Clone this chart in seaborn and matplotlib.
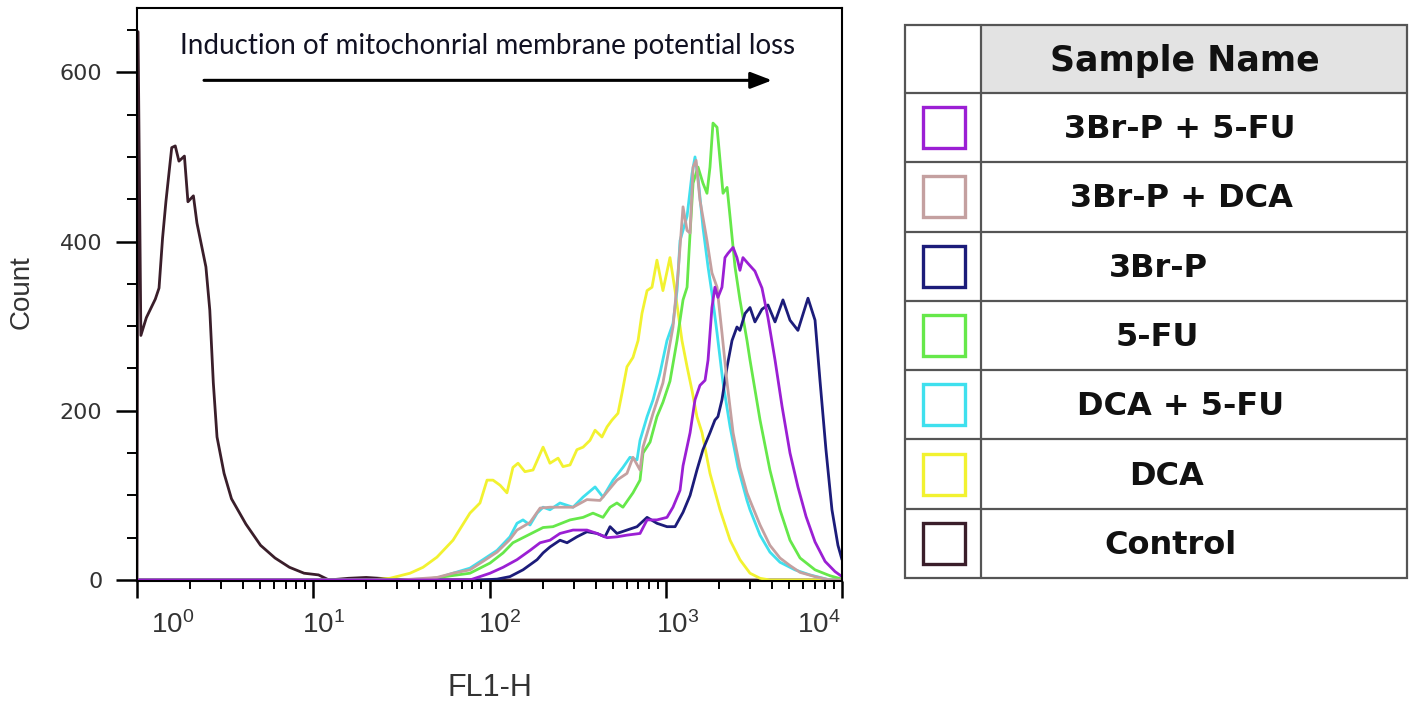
import numpy as np
import pandas as pd
import matplotlib
matplotlib.use("Agg")
import matplotlib.pyplot as plt
import matplotlib.ticker as mticker
import matplotlib.transforms as mtrans
from matplotlib.patches import Rectangle
import seaborn as sns

# ---------------- data (x given as log10(FL1-H), y = Count) ----------------
samples = ["3Br-P + 5-FU", "3Br-P + DCA", "3Br-P", "5-FU", "DCA + 5-FU", "DCA", "Control"]
colors = ["#9b1fd4", "#c4a0a0", "#1c1c7a", "#66e84a", "#3fe0ee", "#f2f230", "#3a1e2a"]

control_log = [0.0, 0.006, 0.022, 0.053, 0.104, 0.125, 0.145, 0.164, 0.197, 0.217,
               0.238, 0.269, 0.289, 0.32, 0.34, 0.391, 0.413, 0.433, 0.454, 0.494,
               0.536, 0.618, 0.701, 0.783, 0.865, 0.948, 1.03, 1.089, 1.2, 1.3,
               1.45, 1.6, 4.0]
control_count = [0, 648, 289, 310, 332, 345, 404, 447, 511, 513,
                 495, 501, 447, 454, 422, 370, 319, 233, 169, 126,
                 96, 66, 41, 26, 15, 8, 6, 0, 2, 3,
                 1, 0, 0]

dca_log = [0.0, 1.322, 1.435, 1.549, 1.623, 1.702, 1.793, 1.889, 1.946, 1.986,
           2.020, 2.060, 2.099, 2.133, 2.162, 2.201, 2.247, 2.304, 2.343, 2.389,
           2.417, 2.457, 2.496, 2.531, 2.570, 2.599, 2.638, 2.667, 2.695, 2.729,
           2.752, 2.780, 2.814, 2.843, 2.865, 2.894, 2.922, 2.950, 2.984, 3.024,
           3.053, 3.092, 3.121, 3.149, 3.177, 3.206, 3.251, 3.308, 3.365, 3.421,
           3.478, 3.535, 3.591, 4.0]
dca_count = [0, 0, 2, 8, 15, 27, 47, 79, 91, 118,
             118, 112, 103, 133, 138, 128, 130, 157, 138, 144,
             134, 136, 154, 157, 165, 177, 169, 181, 189, 197,
             221, 252, 263, 283, 315, 342, 346, 378, 342, 381,
             342, 283, 252, 224, 193, 174, 126, 83, 47, 24,
             8, 2, 0, 0]

dca_5fu_log = [0.0, 1.492, 1.702, 1.793, 1.889, 1.963, 2.043, 2.116, 2.156, 2.190,
               2.230, 2.270, 2.304, 2.343, 2.400, 2.474, 2.531, 2.599, 2.644, 2.701,
               2.757, 2.797, 2.837, 2.854, 2.894, 2.928, 2.967, 3.007, 3.041, 3.064,
               3.081, 3.121, 3.149, 3.166, 3.183, 3.211, 3.240, 3.262, 3.291, 3.325,
               3.365, 3.410, 3.461, 3.478, 3.535, 3.591, 3.648, 3.733, 3.818, 3.932,
               4.0]
dca_5fu_count = [0, 0, 2, 8, 14, 24, 35, 51, 67, 71,
                 65, 79, 86, 83, 91, 86, 98, 110, 98, 118,
                 133, 145, 142, 165, 193, 213, 244, 283, 303, 342,
                 401, 430, 480, 500, 476, 417, 370, 339, 292, 233,
                 181, 133, 94, 83, 53, 33, 21, 12, 6, 0,
                 0]

fu_log = [0.0, 1.606, 1.889, 2.003, 2.077, 2.133, 2.190, 2.247, 2.304, 2.360,
          2.457, 2.531, 2.587, 2.644, 2.684, 2.723, 2.757, 2.814, 2.854, 2.871,
          2.911, 2.950, 2.984, 3.024, 3.064, 3.098, 3.121, 3.138, 3.155, 3.183,
          3.211, 3.234, 3.251, 3.268, 3.291, 3.308, 3.325, 3.348, 3.365, 3.393,
          3.421, 3.461, 3.478, 3.535, 3.591, 3.648, 3.705, 3.762, 3.847, 3.932,
          4.0]
fu_count = [0, 0, 8, 20, 32, 44, 50, 56, 62, 63,
            71, 74, 79, 74, 86, 91, 86, 103, 118, 150,
            163, 193, 210, 235, 283, 331, 346, 410, 469, 488,
            469, 457, 488, 540, 535, 496, 457, 464, 429, 370,
            331, 283, 260, 189, 130, 83, 47, 26, 12, 5,
            1]

brp_log = [0.0, 1.946, 2.043, 2.116, 2.190, 2.270, 2.304, 2.343, 2.400, 2.440,
           2.496, 2.553, 2.610, 2.655, 2.684, 2.723, 2.780, 2.837, 2.894, 2.950,
           3.007, 3.053, 3.098, 3.138, 3.177, 3.211, 3.251, 3.279, 3.296, 3.319,
           3.348, 3.376, 3.404, 3.421, 3.450, 3.478, 3.506, 3.546, 3.580, 3.620,
           3.665, 3.705, 3.750, 3.807, 3.847, 3.875, 3.909, 3.943, 3.977, 4.0]
brp_count = [0, 0, 1, 4, 12, 24, 32, 39, 47, 44,
             51, 57, 55, 51, 63, 55, 59, 63, 74, 67,
             63, 63, 80, 100, 130, 154, 174, 189, 193, 213,
             252, 283, 299, 295, 315, 322, 305, 320, 325, 305,
             331, 307, 295, 333, 307, 236, 154, 83, 41, 24]

brp_dca_log = [0.0, 1.492, 1.702, 1.793, 1.889, 1.963, 2.043, 2.116, 2.156, 2.230,
               2.287, 2.343, 2.474, 2.553, 2.627, 2.723, 2.780, 2.814, 2.854, 2.871,
               2.928, 2.984, 3.041, 3.070, 3.098, 3.121, 3.138, 3.155, 3.172, 3.194,
               3.234, 3.262, 3.291, 3.319, 3.348, 3.382, 3.421, 3.461, 3.478, 3.535,
               3.591, 3.648, 3.705, 3.762, 3.847, 3.932, 4.0]
brp_dca_count = [0, 0, 3, 8, 12, 22, 33, 48, 59, 68,
                 85, 86, 86, 95, 94, 118, 126, 145, 130, 157,
                 197, 233, 299, 363, 441, 413, 410, 488, 496, 449,
                 401, 363, 346, 292, 233, 174, 133, 103, 94, 65,
                 41, 26, 17, 9, 4, 0, 0]

brp_5fu_log = [0.0, 1.889, 2.003, 2.077, 2.156, 2.230, 2.287, 2.343, 2.400, 2.474,
               2.553, 2.610, 2.667, 2.723, 2.780, 2.854, 2.894, 2.950, 3.007, 3.041,
               3.081, 3.098, 3.138, 3.166, 3.194, 3.223, 3.240, 3.262, 3.279, 3.296,
               3.319, 3.336, 3.353, 3.382, 3.404, 3.421, 3.438, 3.467, 3.506, 3.546,
               3.580, 3.620, 3.660, 3.705, 3.750, 3.796, 3.847, 3.904, 3.960, 4.0]
brp_5fu_count = [0, 0, 8, 15, 24, 35, 44, 47, 55, 59,
                 59, 55, 50, 51, 53, 55, 71, 71, 74, 86,
                 106, 135, 174, 213, 230, 236, 260, 322, 346, 334,
                 346, 381, 386, 393, 381, 366, 381, 374, 365, 345,
                 310, 260, 205, 150, 110, 75, 45, 22, 10, 4]

y_ticks = [0, 200, 400, 600]
x_ticks = [1, 10, 100, 1000, 10000]
x_tick_labels = [r"$10^{0}$", r"$10^{1}$", r"$10^{2}$", r"$10^{3}$", r"$10^{4}$"]

series = {
    "3Br-P + 5-FU": (brp_5fu_log, brp_5fu_count),
    "3Br-P + DCA": (brp_dca_log, brp_dca_count),
    "3Br-P": (brp_log, brp_count),
    "5-FU": (fu_log, fu_count),
    "DCA + 5-FU": (dca_5fu_log, dca_5fu_count),
    "DCA": (dca_log, dca_count),
    "Control": (control_log, control_count),
}
palette = dict(zip(samples, colors))

# ---------------- style ----------------
sns.set_style("ticks")
plt.rcParams["font.family"] = ["Liberation Sans", "DejaVu Sans"]
plt.rcParams["mathtext.fontset"] = "custom"
plt.rcParams["mathtext.rm"] = "Liberation Sans"
plt.rcParams["mathtext.it"] = "Liberation Sans:italic"
plt.rcParams["mathtext.bf"] = "Liberation Sans:bold"

W, H = 1418, 704
fig = plt.figure(figsize=(W / 100, H / 100), dpi=100)
fig.patch.set_facecolor("white")

# legend table axes (pixel-like coordinates)
lax = fig.add_axes([0, 0, 1, 1])
lax.set_xlim(0, W)
lax.set_ylim(H, 0)
lax.axis("off")
lax.patch.set_visible(False)

ax = fig.add_axes([137 / W, 1 - 581 / H, 705 / W, 573 / H])
ax.set_xscale("log")

# draw order: Control first, 3Br-P + 5-FU last (on top)
for name in samples[::-1]:
    lg, ct = series[name]
    df = pd.DataFrame({"FL1-H": np.power(10.0, lg), "Count": ct})
    sns.lineplot(data=df, x="FL1-H", y="Count", ax=ax, color=palette[name],
                 lw=2.0, sort=False, estimator=None)

ax.set_xlim(1, 1e4)
ax.set_ylim(-1.2, 676)

ax.set_xticks(x_ticks, x_tick_labels)
ax.xaxis.set_minor_locator(mticker.LogLocator(base=10, subs=np.arange(2, 10), numticks=20))
ax.xaxis.set_minor_formatter(mticker.NullFormatter())
ax.set_yticks(y_ticks, [str(v) for v in y_ticks])
ax.yaxis.set_minor_locator(mticker.MultipleLocator(50))

ax.tick_params(axis="x", which="major", direction="out", length=12.5, width=1.8,
               pad=9, labelsize=20, labelcolor="#333333", color="black")
ax.tick_params(axis="x", which="minor", direction="out", length=6, width=1.4, color="black")
ax.tick_params(axis="y", which="major", direction="out", length=15, width=1.8,
               pad=10, labelsize=16, labelcolor="#333333", color="black")
ax.tick_params(axis="y", which="minor", direction="out", length=7, width=1.4, color="black")
ax.tick_params(top=False, right=False, which="both")

for lbl in ax.get_yticklabels():
    lbl.set_fontfamily("DejaVu Sans")

for lbl, dx in zip(ax.get_xticklabels(), [36, 10, 10, 12, -23]):
    lbl.set_transform(lbl.get_transform() + mtrans.ScaledTranslation(dx / 100, 0, fig.dpi_scale_trans))

for sp in ax.spines.values():
    sp.set_visible(True)
    sp.set_linewidth(1.5)
    sp.set_color("black")

ax.set_ylabel("Count", fontsize=20, color="#333333", va="center")
ax.yaxis.set_label_coords(-0.1638, 0.504)
ax.set_xlabel("FL1-H", fontsize=22, color="#333333", va="center")
ax.xaxis.set_label_coords(0.5, -0.186)

ax.text(98, 631, "Induction of mitochonrial membrane potential loss",
        ha="center", va="center", fontsize=20, family="Lato", color="#111122")
ax.annotate("", xy=(4009, 590.5), xytext=(2.4, 590.5),
            arrowprops=dict(arrowstyle="-|>,head_length=0.65,head_width=0.25",
                            lw=2.2, color="black", shrinkA=0, shrinkB=0,
                            mutation_scale=20))

# ---------------- legend table ----------------
tx0, tx1, tdiv = 905, 1407, 981
ty0, ty1, thead = 25, 578, 93
row_h = (ty1 - thead) / len(samples)
line_c = "#555555"
lax.add_patch(Rectangle((tdiv, ty0), tx1 - tdiv, thead - ty0, fc="#e3e3e3", ec="none"))
lax.add_patch(Rectangle((tx0, ty0), tx1 - tx0, ty1 - ty0, fill=False, ec=line_c, lw=1.6))
lax.plot([tdiv, tdiv], [ty0, ty1], color=line_c, lw=1.6)
lax.plot([tx0, tx1], [thead, thead], color=line_c, lw=1.6)
lax.text(1185, (ty0 + thead) / 2 + 2, "Sample Name", ha="center", va="center",
         fontsize=25, fontweight="bold", family="DejaVu Sans", color="#111111")
text_cx = [1180, 1181, 1158, 1157, 1181, 1167, 1170]
for i, (name, col) in enumerate(zip(samples, colors)):
    yt = thead + i * row_h
    yc = yt + row_h / 2
    if i > 0:
        lax.plot([tx0, tx1], [yt, yt], color=line_c, lw=1.6)
    lax.add_patch(Rectangle((944 - 21, yc - 20.5), 42, 41, fill=False, ec=col, lw=2.4))
    lax.text(text_cx[i], yc + 2, name, ha="center", va="center", fontsize=23,
             fontweight="bold", family="DejaVu Sans", color="#111111")

fig.savefig("out.png", dpi=100, facecolor="white")
